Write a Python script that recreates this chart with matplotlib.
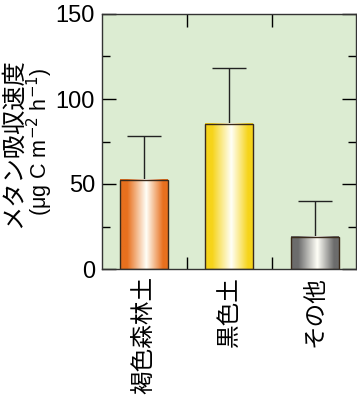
import numpy as np
import matplotlib.pyplot as plt
from matplotlib.colors import LinearSegmentedColormap, to_rgb
from matplotlib.ticker import MultipleLocator, FixedLocator

plt.rcParams['font.family'] = ['Noto Sans CJK JP', 'DejaVu Sans']

# data
soils = ["褐色森林土", "黒色土", "その他"]
uptake = [52.5, 85.5, 19]
err_up = [26, 33, 21]
bar_colors = ["#e8701e", "#f6d41a", "#6c6c6c"]

fig = plt.figure(figsize=(3.57, 4.0), dpi=100)
ax = fig.add_axes([102 / 357, 1 - 269 / 400, 254 / 357, 255 / 400])
ax.set_facecolor("#dcecd2")

x = np.arange(len(soils))
width = 0.56

bars = ax.bar(x, uptake, width, color="none", edgecolor="#3a2a1a",
              linewidth=1.0, zorder=3)
ax.errorbar(x, uptake, yerr=[np.zeros(len(err_up)), err_up], fmt="none",
            ecolor="#222222", elinewidth=1.0, capsize=12, capthick=1.0,
            zorder=2)

# shaded (cylinder-like) fill for each bar
grad = np.linspace(0, 1, 256)
for b, c in zip(bars, bar_colors):
    cmap = LinearSegmentedColormap.from_list(
        "g", [(0, to_rgb(c)), (0.15, to_rgb(c)), (0.55, (1, 1, 0.97)),
              (0.9, to_rgb(c)), (1, to_rgb(c))], N=256)
    x0, y0 = b.get_x(), b.get_y()
    ax.imshow(grad[None, :], cmap=cmap, aspect="auto",
              extent=(x0, x0 + b.get_width(), y0, y0 + b.get_height()),
              zorder=2.5)

ax.set_xlim(-0.49, 2.48)
ax.set_ylim(0, 150)

ax.yaxis.set_major_locator(MultipleLocator(50))
ax.yaxis.set_minor_locator(MultipleLocator(25))
ax.set_xticks(x)
ax.set_xticklabels(soils, rotation=90, fontsize=17, va="top")
ax.xaxis.set_minor_locator(FixedLocator([0.5, 1.5]))

ax.tick_params(axis="x", which="major", length=0, pad=5)
ax.tick_params(axis="x", which="minor", direction="in", length=9,
               top=True, bottom=True, width=1)
ax.tick_params(axis="y", which="major", direction="in", length=10,
               left=True, right=True, width=1)
ax.tick_params(axis="y", which="minor", direction="in", length=6,
               left=True, right=True, width=1)
for lab in ax.get_yticklabels():
    lab.set_family(["Liberation Sans", "DejaVu Sans"])
    lab.set_fontsize(17)
ax.tick_params(axis="y", pad=5)

for s in ax.spines.values():
    s.set_color("#333333")
    s.set_linewidth(1.0)

fig.text(0.036, 1 - 143 / 400, "メタン吸収速度", rotation=90, fontsize=17.5,
         ha="center", va="center")
fig.text(0.113, 1 - 142 / 400, r"(μg C m$^{-2}$ h$^{-1}$)", rotation=90,
         fontsize=15.5, ha="center", va="center",
         family=["Liberation Sans", "DejaVu Sans"])

fig.savefig("out.png", dpi=100)
